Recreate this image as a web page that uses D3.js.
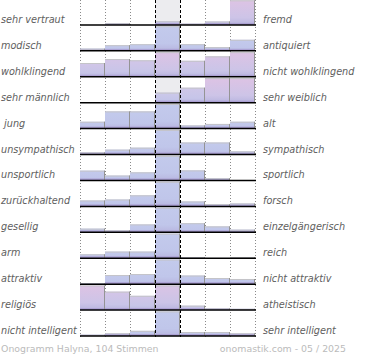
<!DOCTYPE html>
<html><head><meta charset="utf-8">
<script src="https://cdn.jsdelivr.net/npm/d3@7"></script>
<style>body{margin:0;background:#fff}svg{display:block}</style>
</head><body><svg id="c" width="370" height="360"></svg>
<script>
const leftLabels = ["sehr vertraut","modisch","wohlklingend","sehr männlich"," jung","unsympathisch","unsportlich","zurückhaltend","gesellig","arm","attraktiv","religiös","nicht intelligent"];
const rightLabels = ["fremd","antiquiert","nicht wohlklingend","sehr weiblich","alt","sympathisch","sportlich","forsch","einzelgängerisch","reich","nicht attraktiv","atheistisch","sehr intelligent"];
const steps = [1,2,3,4,5,6,7];
// bar heights, % of row maximum
const values = [
  [0, 7, 0, 15, 5, 14, 100],
  [9, 23, 27, 100, 27, 15, 45],
  [56, 72, 67, 100, 65, 83, 100],
  [0, 0, 0, 41, 61, 100, 100],
  [28, 70, 70, 100, 13, 19, 28],
  [9, 20, 28, 100, 49, 49, 13],
  [40, 20, 33, 100, 41, 9, 0],
  [24, 28, 45, 100, 20, 9, 12],
  [15, 8, 32, 100, 37, 24, 11],
  [16, 27, 27, 100, 4, 1, 5],
  [3, 37, 41, 100, 35, 25, 21],
  [100, 75, 58, 100, 18, 7, 5],
  [5, 11, 21, 100, 16, 16, 11]
];
// pink tint share
const pinkShare = [
  [0.2, 0.2, 0.2, 0.3, 0.2, 0.3, 0.9],
  [0, 0, 0, 0, 0, 0, 0],
  [0.5, 0.6, 0.5, 0.9, 0.5, 0.7, 0.9],
  [0, 0, 0, 0.3, 0.4, 0.9, 0.9],
  [0, 0, 0, 0, 0, 0, 0],
  [0, 0, 0, 0, 0, 0, 0],
  [0, 0, 0, 0, 0, 0, 0],
  [0, 0, 0, 0, 0, 0, 0],
  [0, 0, 0, 0, 0, 0, 0],
  [0, 0, 0, 0, 0, 0, 0],
  [0, 0, 0, 0, 0, 0, 0],
  [0.9, 0.6, 0.5, 0.8, 0.3, 0.2, 0.2],
  [0, 0, 0, 0, 0, 0, 0]
];
const footerLeft = "Onogramm Halyna, 104 Stimmen";
const footerRight = "onomastik.com - 05 / 2025";

const svg = d3.select("#c");
const x = d3.scaleBand().domain(steps).range([80, 255]).padding(0);
const row = d3.scaleBand().domain(d3.range(leftLabels.length)).range([-1, 336]);
const h = d3.scaleLinear().domain([0, 100]).range([0, 24.6]);
const tint = d3.interpolateRgb("#c3caec", "#e0c2e3");
const baseY = i => row(i) + row.step();
const bw = x.bandwidth();
const defs = svg.append("defs");

// neutral column background
svg.append("rect").attr("x", x(4)).attr("y", 0).attr("width", bw).attr("height", 337).attr("fill", "#ececef");

// dotted grid
const gridX = steps.map(s => x(s)).concat([x(7) + bw]);
svg.selectAll("line.dot").data(gridX.filter((d, i) => i !== 3 && i !== 4)).enter().append("line")
  .attr("x1", d => d + 0.5).attr("x2", d => d + 0.5).attr("y1", 0).attr("y2", 337)
  .attr("stroke", "#8a8a8a").attr("stroke-width", 1).attr("stroke-dasharray", "1,2");

// bars
values.forEach((vals, i) => {
  const g = svg.append("g");
  vals.forEach((v, j) => {
    if (v <= 0) return;
    const id = `g${i}_${j}`;
    const p = pinkShare[i][j];
    const lg = defs.append("linearGradient").attr("id", id).attr("x1", 0).attr("y1", 0).attr("x2", 0).attr("y2", 1);
    lg.append("stop").attr("offset", 0).attr("stop-color", tint(p));
    lg.append("stop").attr("offset", 0.7).attr("stop-color", d3.interpolateRgb("#c0c6ea", "#d4c3e5")(p * 0.7));
    lg.append("stop").attr("offset", 1).attr("stop-color", "#b8b5df");
    const bx = x(steps[j]), by = baseY(i) - h(v), bh = h(v);
    g.append("rect").attr("x", bx).attr("y", by).attr("width", bw).attr("height", bh).attr("fill", `url(#${id})`);
    g.append("rect").attr("x", bx).attr("y", baseY(i) - Math.min(2, bh)).attr("width", bw).attr("height", Math.min(2, bh)).attr("fill", "#a79bcf").attr("opacity", 0.8);
    g.append("line").attr("x1", bx).attr("x2", bx + bw).attr("y1", by + 0.5).attr("y2", by + 0.5).attr("stroke", "#c4c4c8").attr("stroke-width", 1);
    g.append("line").attr("x1", bx + bw - 0.5).attr("x2", bx + bw - 0.5).attr("y1", by).attr("y2", baseY(i)).attr("stroke", "#949494").attr("stroke-width", 1);
  });
  svg.append("line").attr("x1", 80).attr("x2", 256).attr("y1", baseY(i)).attr("y2", baseY(i))
    .attr("stroke", "#000").attr("stroke-width", 1.5);
});

// dashed neutral lines
svg.selectAll("line.dash").data([x(4), x(5)]).enter().append("line")
  .attr("x1", d => d + 0.5).attr("x2", d => d + 0.5).attr("y1", 0).attr("y2", 337)
  .attr("stroke", "#000").attr("stroke-width", 1).attr("stroke-dasharray", "3,2");

// labels
const font = "'DejaVu Sans', Verdana, sans-serif";
svg.selectAll("text.l").data(leftLabels).enter().append("text")
  .attr("x", 1).attr("y", (d, i) => baseY(i) - 2).attr("xml:space", "preserve").style("white-space", "pre")
  .attr("font-family", font).attr("font-style", "italic").attr("font-size", 9.7).attr("fill", "#606060")
  .text(d => d);
svg.selectAll("text.r").data(rightLabels).enter().append("text")
  .attr("x", 263).attr("y", (d, i) => baseY(i) - 2)
  .attr("font-family", font).attr("font-style", "italic").attr("font-size", 9.7).attr("fill", "#606060")
  .text(d => d);

svg.append("text").attr("x", 1).attr("y", 352).attr("font-family", font).attr("font-size", 9.4).attr("fill", "#bbb").text(footerLeft);
svg.append("text").attr("x", 346).attr("y", 352).attr("text-anchor", "end").attr("font-family", font).attr("font-size", 9.4).attr("fill", "#bbb").text(footerRight);
</script></body></html>
